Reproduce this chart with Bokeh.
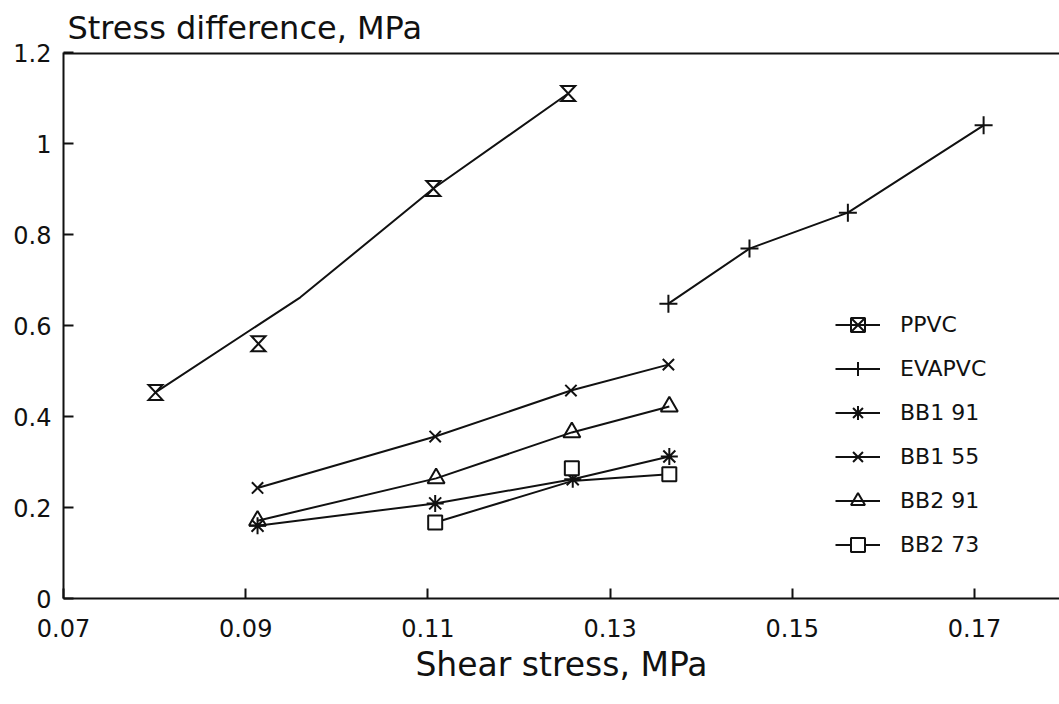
from bokeh.plotting import figure
from bokeh.models import Range1d, FixedTicker, Legend, LegendItem, Span
from bokeh.embed import file_html
from bokeh.resources import INLINE

# ---- data ----
x_ticks = [0.07, 0.09, 0.11, 0.13, 0.15, 0.17]
x_tick_labels = ["0.07", "0.09", "0.11", "0.13", "0.15", "0.17"]
y_ticks = [0.0, 0.2, 0.4, 0.6, 0.8, 1.0, 1.2]
y_tick_labels = ["0", "0.2", "0.4", "0.6", "0.8", "1", "1.2"]

series_names = ["PPVC", "EVAPVC", "BB1 91", "BB1 55", "BB2 91", "BB2 73"]

ppvc_x = [0.0801, 0.0914, 0.1106, 0.1254]
ppvc_y = [0.453, 0.560, 0.901, 1.110]
ppvc_line_x = [0.0801, 0.0960, 0.1106, 0.1254]
ppvc_line_y = [0.453, 0.662, 0.901, 1.110]

evapvc_x = [0.1364, 0.1453, 0.1561, 0.1710]
evapvc_y = [0.648, 0.769, 0.848, 1.040]

bb1_91_x = [0.0913, 0.1108, 0.1259, 0.1365]
bb1_91_y = [0.160, 0.209, 0.262, 0.312]

bb1_55_x = [0.0913, 0.1108, 0.1257, 0.1364]
bb1_55_y = [0.243, 0.356, 0.457, 0.514]

bb2_91_x = [0.0913, 0.1109, 0.1258, 0.1365]
bb2_91_y = [0.171, 0.264, 0.365, 0.422]

bb2_73_x = [0.1108, 0.1258, 0.1365]
bb2_73_y = [0.167, 0.286, 0.273]
bb2_73_line_y = [0.167, 0.258, 0.273]

# ---- layout ----
W, H = 1059, 704
FL, FR, FT, FB = 63, 1059, 52, 598
frame_w, frame_h = FR - FL, FB - FT
x_start = 0.07
px_per_x = 9110.0
x_end = x_start + frame_w / px_per_x
y_start, y_end = 0.0, 1.2
px_per_y = frame_h / (y_end - y_start)

FONT = "DejaVu Sans"
BLACK = "#111111"

p = figure(width=W, height=H,
           x_range=Range1d(x_start, x_end), y_range=Range1d(y_start, y_end),
           output_backend="svg", toolbar_location=None,
           min_border_left=FL, min_border_right=0,
           min_border_top=FT, min_border_bottom=H - FB,
           title="Stress difference, MPa")
p.title.text_font = FONT
p.title.text_font_size = "32px"
p.title.text_font_style = "normal"
p.title.text_color = BLACK
p.title.align = "left"
p.title.vertical_align = "top"
p.title.offset = 4
p.title.standoff = 8

p.outline_line_color = None
p.background_fill_color = "white"
p.border_fill_color = "white"
p.xgrid.visible = False
p.ygrid.visible = False

for ax in (p.xaxis[0], p.yaxis[0]):
    ax.axis_line_width = 2
    ax.axis_line_color = BLACK
    ax.major_tick_in = 10
    ax.major_tick_out = 0
    ax.major_tick_line_width = 2
    ax.major_tick_line_color = BLACK
    ax.minor_tick_line_color = None
    ax.major_label_text_font = FONT
    ax.major_label_text_font_size = "24px"
    ax.major_label_text_color = BLACK

p.xaxis.ticker = FixedTicker(ticks=x_ticks)
p.xaxis.major_label_overrides = dict(zip(x_ticks, x_tick_labels))
p.xaxis.major_label_standoff = 20
p.xaxis.axis_label = "Shear stress, MPa"
p.xaxis.axis_label_text_font = FONT
p.xaxis.axis_label_text_font_size = "33px"
p.xaxis.axis_label_text_font_style = "normal"
p.xaxis.axis_label_text_color = BLACK
p.xaxis.axis_label_standoff = 5

p.yaxis.ticker = FixedTicker(ticks=y_ticks)
p.yaxis.major_label_overrides = dict(zip(y_ticks, y_tick_labels))
p.yaxis.major_label_standoff = 12

# top border
p.add_layout(Span(location=y_end, dimension="width", line_color=BLACK, line_width=4))

LW = 2

# PPVC: line + hourglass markers (drawn as bow-tie outlines)
ppvc_line = p.line(ppvc_line_x, ppvc_line_y, line_color=BLACK, line_width=LW)
hw = 7.0 / px_per_x
hh = 7.5 / px_per_y
hg_xs = [[x - hw, x + hw, x - hw, x + hw] for x in ppvc_x]
hg_ys = [[y + hh, y + hh, y - hh, y - hh] for y in ppvc_y]
p.patches(hg_xs, hg_ys, fill_color=None, line_color=BLACK, line_width=LW,
          line_join="miter")
ppvc_leg = p.scatter(ppvc_x, ppvc_y, marker="square_x", size=0,
                     fill_color=None, line_color=BLACK, line_width=LW)

ev_line = p.line(evapvc_x, evapvc_y, line_color=BLACK, line_width=LW)
ev_mk = p.scatter(evapvc_x, evapvc_y, marker="cross", size=18,
                  line_color=BLACK, line_width=LW)

b191_line = p.line(bb1_91_x, bb1_91_y, line_color=BLACK, line_width=LW)
b191_mk = p.scatter(bb1_91_x, bb1_91_y, marker="asterisk", size=17,
                    line_color=BLACK, line_width=LW)

b155_line = p.line(bb1_55_x, bb1_55_y, line_color=BLACK, line_width=LW)
b155_mk = p.scatter(bb1_55_x, bb1_55_y, marker="x", size=16,
                    line_color=BLACK, line_width=LW)

b291_line = p.line(bb2_91_x, bb2_91_y, line_color=BLACK, line_width=LW)
b291_mk = p.scatter(bb2_91_x, bb2_91_y, marker="triangle", size=17,
                    fill_color=None, line_color=BLACK, line_width=LW)

b273_line = p.line(bb2_73_x, bb2_73_line_y, line_color=BLACK, line_width=LW)
b273_mk = p.scatter(bb2_73_x, bb2_73_y, marker="square", size=14,
                    fill_color="white", line_color=BLACK, line_width=LW)

items = [
    LegendItem(label=series_names[0], renderers=[ppvc_line, ppvc_leg]),
    LegendItem(label=series_names[1], renderers=[ev_line, ev_mk]),
    LegendItem(label=series_names[2], renderers=[b191_line, b191_mk]),
    LegendItem(label=series_names[3], renderers=[b155_line, b155_mk]),
    LegendItem(label=series_names[4], renderers=[b291_line, b291_mk]),
    LegendItem(label=series_names[5], renderers=[b273_line, b273_mk]),
]
legend = Legend(items=items, location=(772, 36),
                glyph_width=45, glyph_height=35, label_height=35,
                spacing=9, padding=0, margin=0, label_standoff=20,
                border_line_color=None, background_fill_alpha=0,
                label_text_font=FONT, label_text_font_size="22px",
                label_text_color=BLACK)
p.add_layout(legend)

open("out.html", "w").write(file_html(p, INLINE))
